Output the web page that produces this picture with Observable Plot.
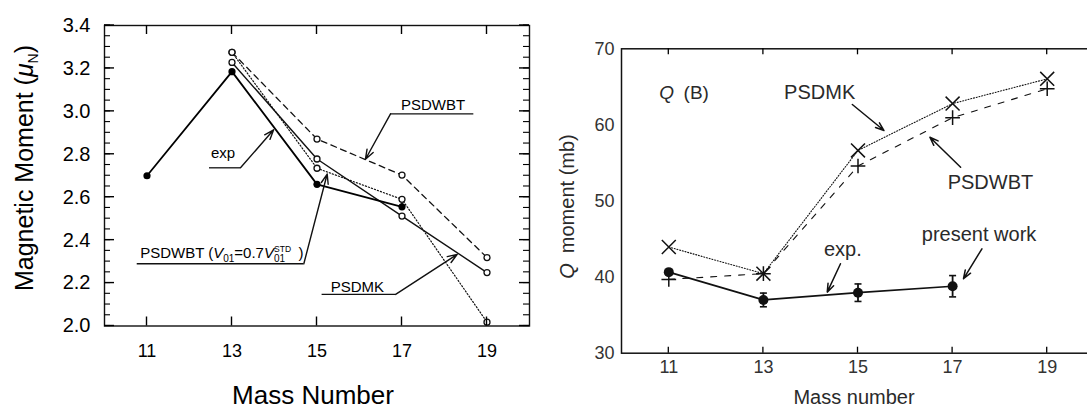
<!DOCTYPE html>
<html>
<head>
<meta charset="utf-8">
<script src="https://cdn.jsdelivr.net/npm/d3@7"></script>
<script src="https://cdn.jsdelivr.net/npm/@observablehq/plot@0.6"></script>
<style>
  html, body { margin: 0; padding: 0; background: #fff; overflow: hidden; }
  #wrap { position: relative; width: 1087px; height: 409px; overflow: hidden; background: #fff; }
  #left, #right { position: absolute; top: 0; }
  #left { left: 0; width: 540px; }
  #right { left: 540px; width: 570px; }
</style>
</head>
<body>
<div id="wrap"><div id="left"></div><div id="right"></div></div>
<script>
// ---- Magnetic moments (μN) versus mass number ----
const muExpMass = [11, 13, 15, 17];
const muExp = [2.70, 3.185, 2.66, 2.555];
const muExpErr = [0, 0, 0, 0.015];
const muTheoMass = [13, 15, 17, 19];
const muPSDMK = [3.228, 2.778, 2.512, 2.249];
const muPSDWBT = [3.275, 2.871, 2.703, 2.319];
const muPSDWBT07 = [3.275, 2.735, 2.590, 2.018];

// ---- Quadrupole moments (mb) versus mass number ----
const qTheoMass = [11, 13, 15, 17, 19];
const qExpMass = [11, 13, 15, 17];
const qExp = [40.65, 37.0, 37.95, 38.8];
const qExpErr = [0, 0.9, 1.15, 1.4];
const qPSDMK = [43.95, 40.45, 56.65, 62.8, 66.05];
const qPSDWBT = [39.7, 40.45, 54.6, 60.95, 64.75];

// ---- Axis ticks ----
const massTicks = [11, 13, 15, 17, 19];
const muTicks = [2.0, 2.2, 2.4, 2.6, 2.8, 3.0, 3.2, 3.4];
const muMinorTicks = d3.range(2.0, 3.4001, 0.05).map(v => +v.toFixed(2));
const qTicks = [30, 40, 50, 60, 70];

const rows = (xs, ys, es) => xs.map((x, i) => ({x, y: ys[i], e: es ? es[i] : 0}));
const FONT = "'Liberation Sans', Arial, Helvetica, sans-serif";

// Annotation labels and leaders (data coordinates)
const muLabels = [
  {text: "PSDWBT", x: 17.73, y: 3.027},
  {text: "exp", x: 12.79, y: 2.807},
  {text: "PSDMK", x: 15.95, y: 2.183}
];
const muUnderlines = [
  {x1: 16.73, x2: 18.69, y: 2.988},
  {x1: 12.47, x2: 13.20, y: 2.737},
  {x1: 10.77, x2: 14.69, y: 2.290},
  {x1: 15.12, x2: 16.85, y: 2.147}
];
const muArrows = [
  {x1: 16.73, y1: 2.988, x2: 16.14, y2: 2.777},
  {x1: 13.20, y1: 2.737, x2: 13.98, y2: 2.914},
  {x1: 14.69, y1: 2.290, x2: 15.24, y2: 2.708},
  {x1: 16.85, y1: 2.147, x2: 18.30, y2: 2.334}
];
const qLabels = [
  {text: "PSDMK", x: 14.19, y: 64.19},
  {text: "PSDWBT", x: 17.80, y: 52.37},
  {text: "exp.", x: 14.68, y: 43.55},
  {text: "present work", x: 17.56, y: 45.56}
];
const qArrows = [
  {x1: 14.88, y1: 62.68, x2: 15.55, y2: 59.26},
  {x1: 17.17, y1: 54.44, x2: 16.52, y2: 58.38},
  {x1: 14.63, y1: 41.75, x2: 14.35, y2: 38.02},
  {x1: 17.62, y1: 43.72, x2: 17.23, y2: 39.78}
];

// horizontal cap for error bars
const capSymbol = {draw(ctx) { ctx.moveTo(-3.5, 0); ctx.lineTo(3.5, 0); }};

// Panel geometry
const L = {width: 540, height: 409, marginLeft: 104, marginRight: 11, marginTop: 25, marginBottom: 83.5};
const R = {width: 570, height: 409, marginLeft: 81, marginRight: 16, marginTop: 48.3, marginBottom: 56.3};

// Short inward tick marks along the frame, placed with the chart's own scales
function inwardTicks(chart, g, side, values, len, sw) {
  const svg = d3.select(chart);
  const sx = chart.scale("x"), sy = chart.scale("y");
  const top = g.marginTop, bottom = g.height - g.marginBottom;
  const lft = g.marginLeft, rgt = g.width - g.marginRight;
  const grp = svg.append("g").attr("stroke", "#000").attr("stroke-width", sw).attr("fill", "none");
  for (const v of values) {
    let x1, x2, y1, y2;
    if (side === "bottom") { x1 = x2 = sx.apply(v); y1 = bottom; y2 = bottom - len; }
    else if (side === "top") { x1 = x2 = sx.apply(v); y1 = top; y2 = top + len; }
    else if (side === "left") { y1 = y2 = sy.apply(v); x1 = lft; x2 = lft + len; }
    else { y1 = y2 = sy.apply(v); x1 = rgt; x2 = rgt - len; }
    grp.append("line").attr("x1", x1).attr("x2", x2).attr("y1", y1).attr("y2", y2);
  }
}

// ================= Left panel =================
const left = Plot.plot({
  ...L,
  x: {domain: [10, 20]},
  y: {domain: [2.0, 3.4]},
  style: {fontFamily: FONT, color: "#000", background: "#fff", maxWidth: "none", overflow: "visible"},
  marks: [
    // tick labels
    Plot.axisX({anchor: "bottom", ticks: massTicks, tickSize: 0, tickPadding: 18, fontSize: 18, label: null, fill: "#000"}),
    Plot.axisY({anchor: "left", ticks: muTicks, tickSize: 0, tickPadding: 14, fontSize: 20, label: null, fill: "#000", tickFormat: d3.format(".1f")}),
    // model curves
    Plot.line(rows(muTheoMass, muPSDWBT), {x: "x", y: "y", stroke: "#111", strokeWidth: 1.3, strokeDasharray: "6,4.5"}),
    Plot.line(rows(muTheoMass, muPSDWBT07), {x: "x", y: "y", stroke: "#111", strokeWidth: 1.2, strokeDasharray: "1.2,2"}),
    Plot.line(rows(muTheoMass, muPSDMK), {x: "x", y: "y", stroke: "#111", strokeWidth: 1.4}),
    Plot.line(rows(muExpMass, muExp), {x: "x", y: "y", stroke: "#000", strokeWidth: 1.8}),
    Plot.ruleX(rows(muExpMass, muExp, muExpErr).filter(d => d.e > 0), {x: "x", y1: d => d.y - d.e, y2: d => d.y + d.e, stroke: "#000", strokeWidth: 2.2}),
    Plot.dot(rows(muTheoMass, muPSDWBT), {x: "x", y: "y", r: 3, fill: "#fff", stroke: "#111", strokeWidth: 1.3}),
    Plot.dot(rows(muTheoMass, muPSDWBT07), {x: "x", y: "y", r: 3, fill: "#fff", stroke: "#111", strokeWidth: 1.3}),
    Plot.dot(rows(muTheoMass, muPSDMK), {x: "x", y: "y", r: 3, fill: "#fff", stroke: "#111", strokeWidth: 1.3}),
    Plot.dot(rows(muExpMass, muExp), {x: "x", y: "y", r: 3.6, fill: "#000"}),
    // annotations
    Plot.ruleY(muUnderlines, {x1: "x1", x2: "x2", y: "y", stroke: "#111", strokeWidth: 1.3}),
    Plot.arrow(muArrows, {x1: "x1", y1: "y1", x2: "x2", y2: "y2", stroke: "#111", strokeWidth: 1.4, headLength: 11, headAngle: 40}),
    Plot.text(muLabels, {x: "x", y: "y", text: "text", fontSize: 15, fill: "#000"}),
    Plot.frame({stroke: "#111", strokeWidth: 1.4})
  ]
});
document.getElementById("left").append(left);

{
  const svg = d3.select(left);
  const sx = left.scale("x"), sy = left.scale("y");
  // inward ticks on all four sides
  inwardTicks(left, L, "bottom", massTicks, 9, 1.4);
  inwardTicks(left, L, "top", massTicks, 9, 1.4);
  inwardTicks(left, L, "left", muMinorTicks, 6, 1.1);
  inwardTicks(left, L, "left", muTicks, 10, 1.4);
  inwardTicks(left, L, "right", muMinorTicks, 6, 1.1);
  inwardTicks(left, L, "right", muTicks, 10, 1.4);
  // axis titles
  const yt = svg.append("text")
    .attr("transform", "translate(32.5,168) rotate(-90)")
    .attr("text-anchor", "middle").attr("font-size", 25).attr("fill", "#000")
    .attr("font-family", FONT);
  yt.append("tspan").text("Magnetic Moment (");
  yt.append("tspan").attr("font-style", "italic").text("μ");
  yt.append("tspan").attr("font-size", 14).attr("dy", 5).text("N");
  yt.append("tspan").attr("dy", -5).text(")");
  svg.append("text")
    .attr("x", 313).attr("y", 404)
    .attr("text-anchor", "middle").attr("font-size", 26).attr("fill", "#000")
    .attr("font-family", FONT).text("Mass Number");
  // PSDWBT (V01 = 0.7 V01^STD) label
  const t = svg.append("text")
    .attr("x", sx.apply(10.85)).attr("y", sy.apply(2.314))
    .attr("text-anchor", "start")
    .attr("font-size", 15).attr("fill", "#000").attr("font-family", FONT);
  t.append("tspan").text("PSDWBT (");
  t.append("tspan").attr("font-style", "italic").text("V");
  t.append("tspan").attr("font-size", 10).attr("dy", 3.5).text("01");
  t.append("tspan").attr("dy", -3.5).text("=0.7");
  t.append("tspan").attr("font-style", "italic").text("V");
  t.append("tspan").attr("font-size", 10).attr("dy", 3.5).text("01");
  t.append("tspan").attr("font-size", 8.5).attr("dx", -11).attr("dy", -10).text("STD");
  t.append("tspan").attr("dy", 6.5).text("\u2002)");
}

// ================= Right panel =================
const right = Plot.plot({
  ...R,
  x: {domain: [10, 20]},
  y: {domain: [30, 70]},
  style: {fontFamily: FONT, color: "#222", background: "#fff", maxWidth: "none", overflow: "visible"},
  marks: [
    Plot.axisX({anchor: "bottom", ticks: massTicks, tickSize: 0, tickPadding: 7, fontSize: 18, label: null, fill: "#333"}),
    Plot.axisY({anchor: "left", ticks: qTicks, tickSize: 0, tickPadding: 7, fontSize: 18, label: null, fill: "#333"}),
    // model curves
    Plot.line(rows(qTheoMass, qPSDMK), {x: "x", y: "y", stroke: "#111", strokeWidth: 1.1, strokeDasharray: "1,1.8"}),
    Plot.line(rows(qTheoMass, qPSDWBT), {x: "x", y: "y", stroke: "#111", strokeWidth: 1.1, strokeDasharray: "6,8"}),
    Plot.dot(rows(qTheoMass, qPSDMK), {x: "x", y: "y", symbol: "times", r: 6.4, stroke: "#111", strokeWidth: 1.5, fill: "none"}),
    Plot.dot(rows(qTheoMass, qPSDWBT), {x: "x", y: "y", symbol: "plus", r: 4.8, stroke: "#111", strokeWidth: 1.5, fill: "none"}),
    // measured values with error bars
    Plot.line(rows(qExpMass, qExp), {x: "x", y: "y", stroke: "#111", strokeWidth: 1.7}),
    Plot.ruleX(rows(qExpMass, qExp, qExpErr).filter(d => d.e > 0), {x: "x", y1: d => d.y - d.e, y2: d => d.y + d.e, stroke: "#111", strokeWidth: 1.8}),
    Plot.dot(rows(qExpMass, qExp, qExpErr).filter(d => d.e > 0), {x: "x", y: d => d.y - d.e, symbol: capSymbol, stroke: "#111", strokeWidth: 1.6, fill: "none"}),
    Plot.dot(rows(qExpMass, qExp, qExpErr).filter(d => d.e > 0), {x: "x", y: d => d.y + d.e, symbol: capSymbol, stroke: "#111", strokeWidth: 1.6, fill: "none"}),
    Plot.dot(rows(qExpMass, qExp), {x: "x", y: "y", r: 5, fill: "#111"}),
    // annotations
    Plot.arrow(qArrows, {x1: "x1", y1: "y1", x2: "x2", y2: "y2", stroke: "#111", strokeWidth: 1.5, headLength: 9, headAngle: 40}),
    Plot.text(qLabels, {x: "x", y: "y", text: "text", fontSize: 20, fill: "#2a2a2a"}),
    Plot.frame({stroke: "#111", strokeWidth: 1.5})
  ]
});
document.getElementById("right").append(right);

{
  const svg = d3.select(right);
  const sx = right.scale("x"), sy = right.scale("y");
  // short inward ticks at top and bottom
  inwardTicks(right, R, "top", massTicks, 6, 1.3);
  inwardTicks(right, R, "bottom", massTicks, 6, 1.3);
  const q = svg.append("text")
    .attr("x", sx.apply(10.81)).attr("y", sy.apply(64.30)).attr("dy", "0.36em")
    .attr("text-anchor", "start")
    .attr("font-size", 19).attr("fill", "#2a2a2a").attr("font-family", FONT);
  q.append("tspan").attr("font-style", "italic").text("Q");
  q.append("tspan").text("\u2002(B)");
  const yt = svg.append("text")
    .attr("transform", "translate(34,206.5) rotate(-90)")
    .attr("text-anchor", "middle").attr("font-size", 20).attr("fill", "#2a2a2a")
    .attr("font-family", FONT);
  yt.append("tspan").attr("font-style", "italic").text("Q");
  yt.append("tspan").text("\u2002moment (mb)");
  svg.append("text")
    .attr("x", 314).attr("y", 404)
    .attr("text-anchor", "middle").attr("font-size", 20).attr("fill", "#2a2a2a")
    .attr("font-family", FONT).text("Mass number");
}
</script>
</body>
</html>
